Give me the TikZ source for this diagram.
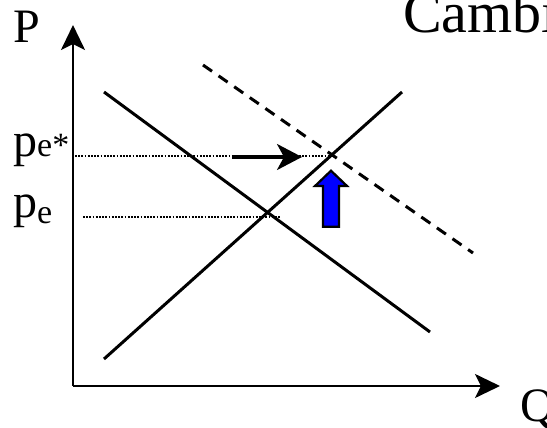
\documentclass[tikz,border=0pt]{standalone}
\usepackage{fontspec}
\setmainfont{Liberation Serif}
\usetikzlibrary{arrows.meta, positioning, calc}
\definecolor{shiftblue}{HTML}{0000FF}

\begin{document}
\begin{tikzpicture}[x=1pt, y=-1pt, >={Stealth[length=25pt, width=24pt, inset=6pt]}, line width=2.4pt,
  lbl/.style={font=\fontsize{48}{50}\selectfont, inner sep=0pt, anchor=base west},
  guide/.style={line width=1.8pt, dash pattern=on 1.8pt off 1.4pt},
  curve/.style={line width=3pt}]

% Page frame
\useasboundingbox (0,0) rectangle (547,428);

% --- Points ---
\coordinate (origin) at (73,386);
\coordinate (ptop) at (73,25);
\coordinate (qend) at (500,386);
\coordinate (d1) at (104,92);
\coordinate (d2) at (430,332);
\coordinate (s1) at (104,359);
\coordinate (s2) at (402,92);
\coordinate (n1) at (203,65);
\coordinate (n2) at (473,253);
\coordinate (estar) at (331,155.7);
\coordinate (eq) at (280,216.7);

% --- Axes ---
\draw[->, line width=2.4pt] (origin) -- (ptop);
\draw[->, line width=2.4pt] (origin) -- (qend);

% --- Guide lines to the price axis ---
\draw[guide] (75,155.7) -- (estar);
\draw[guide] (83,216.7) -- (eq);

% --- Curves ---
\draw[curve] (d1) -- (d2);
\draw[curve] (s1) -- (s2);
\draw[curve, dash pattern=on 11pt off 8pt] (n1) -- (n2);

% --- Labels ---
\node[lbl] (plabel) at (12,43) {P};
\node[lbl] (qlabel) at (519,421) {Q};
\node[lbl, font=\fontsize{58}{60}\selectfont] (title) at (402,33) {Cambio};
\node[lbl] (pestar) at (12,157) {p{\fontsize{34}{34}\selectfont e*}};
\node[lbl] (pe) at (12,217) {p\raisebox{-6pt}{\fontsize{34}{34}\selectfont e}};

% Horizontal shift arrow
\coordinate (hs) at (232,157);
\coordinate (he) at (302,157);
\draw[->, line width=3pt, >={Stealth[length=25pt, width=26pt, inset=7pt]}] (hs) -- (he);

% Upward shift of price
\draw[line width=2.2pt, fill=shiftblue, line join=miter]
  (331,170.7) -- (347,186) -- (339,186) -- (339,226.7) -- (323,226.7)
  -- (323,186) -- (315,186) -- cycle;

\end{tikzpicture}
\end{document}
